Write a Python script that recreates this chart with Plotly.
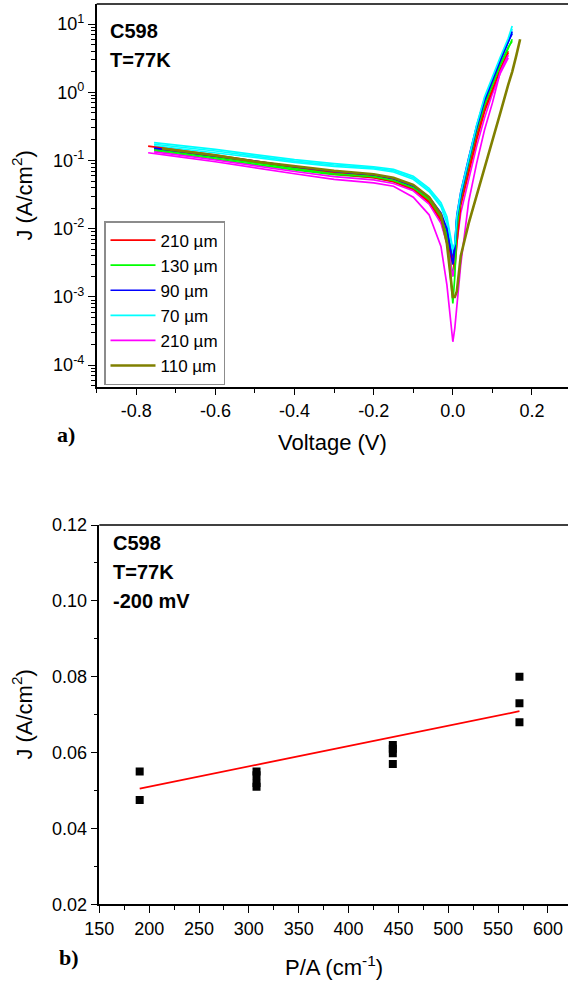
import plotly.graph_objects as go

# ---------------- data: panel a) J-V curves ----------------
voltage = [-0.77, -0.755, -0.735, -0.7, -0.6, -0.5, -0.4, -0.3, -0.2, -0.15, -0.1, -0.06, -0.03, -0.015,
           0.0, 0.005, 0.01, 0.02, 0.04, 0.06, 0.08, 0.1, 0.12, 0.14, 0.15, 0.16, 0.17]

red_210_a = [0.163, 0.158, 0.152, 0.143, 0.120, 0.098, 0.080, 0.066, 0.058, 0.051, 0.039, 0.025, 0.014, 0.007,
             0.0035, 0.0025, 0.006, 0.022, 0.07, 0.20, 0.52, 1.1, 2.2, 4.0, None, None, None]
green_130_a = [None, 0.146, 0.141, 0.132, 0.111, 0.092, 0.076, 0.064, 0.058, 0.051, 0.040, 0.027, 0.015, 0.008,
               0.0008, 0.002, 0.010, 0.028, 0.09, 0.27, 0.65, 1.3, 2.5, 4.4, 6.0, None, None]
blue_90_a = [None, 0.152, 0.147, 0.139, 0.118, 0.098, 0.081, 0.069, 0.062, 0.055, 0.043, 0.029, 0.017, 0.010,
             0.003, 0.005, 0.014, 0.030, 0.10, 0.30, 0.75, 1.5, 2.9, 5.5, 7.8, None, None]
cyan_70_a = [None, 0.183, 0.178, 0.168, 0.146, 0.122, 0.103, 0.090, 0.081, 0.074, 0.059, 0.039, 0.024, 0.015,
             0.005, 0.006, 0.015, 0.034, 0.11, 0.33, 0.85, 1.7, 3.3, 6.2, 9.4, None, None]
magenta_210_a = [0.130, 0.127, 0.123, 0.115, 0.096, 0.078, 0.064, 0.053, 0.047, 0.042, 0.029, 0.016, 0.0055, 0.0015,
                 0.00022, 0.00035, 0.0007, 0.003, 0.025, 0.09, 0.28, 0.7, 2.0, 3.5, None, None, None]
olive_110_a = [None, None, 0.150, 0.142, 0.119, 0.097, 0.083, 0.071, 0.063, 0.056, 0.044, 0.029, 0.016, 0.006,
               0.001, 0.001, 0.0012, 0.004, 0.012, 0.030, 0.075, 0.20, 0.50, 1.3, 2.0, 3.4, 6.0]
cyan_70_b = [None, 0.173, 0.168, 0.159, 0.138, 0.116, 0.098, 0.086, 0.078, 0.071, 0.056, 0.037, 0.022, 0.013,
             0.0045, 0.006, 0.014, 0.032, 0.105, 0.31, 0.80, 1.6, 3.1, 5.8, 8.5, None, None]
cyan_70_c = [None, 0.165, 0.160, 0.152, 0.132, 0.111, 0.094, 0.082, 0.075, 0.068, 0.053, 0.035, 0.021, 0.012,
             0.004, 0.005, 0.013, 0.030, 0.10, 0.30, 0.75, 1.5, 2.9, 5.4, 7.5, None, None]
blue_90_b = [None, 0.146, 0.141, 0.133, 0.113, 0.094, 0.078, 0.066, 0.060, 0.053, 0.041, 0.028, 0.016, 0.009,
             0.0035, 0.006, 0.016, 0.035, 0.11, 0.32, 0.80, 1.6, 3.1, 5.6, 7.2, None, None]
green_130_b = [None, 0.139, 0.134, 0.126, 0.106, 0.088, 0.073, 0.062, 0.056, 0.049, 0.039, 0.026, 0.015, 0.008,
               0.002, 0.004, 0.011, 0.030, 0.095, 0.28, 0.68, 1.35, 2.6, 4.6, 5.6, None, None]
red_210_b = [None, 0.150, 0.145, 0.137, 0.116, 0.095, 0.078, 0.064, 0.056, 0.049, 0.037, 0.024, 0.013, 0.0065,
             0.003, 0.004, 0.009, 0.025, 0.08, 0.23, 0.58, 1.15, 2.2, 3.8, None, None, None]
magenta_210_b = [None, 0.134, 0.130, 0.122, 0.102, 0.083, 0.069, 0.058, 0.052, 0.046, 0.036, 0.023, 0.012, 0.006,
                 0.002, 0.003, 0.006, 0.017, 0.055, 0.16, 0.42, 0.95, 1.9, 3.2, None, None, None]

legend_names = ["210 µm", "130 µm", "90 µm", "70 µm", "210 µm", "110 µm"]
legend_curves = [red_210_a, green_130_a, blue_90_a, cyan_70_a, magenta_210_a, olive_110_a]
extra_curves = [cyan_70_b, cyan_70_c, blue_90_b, green_130_b, red_210_b, magenta_210_b]

x_tick_vals_a = [-0.8, -0.6, -0.4, -0.2, 0.0, 0.2]
x_tick_text_a = ["-0.8", "-0.6", "-0.4", "-0.2", "0.0", "0.2"]
y_tick_vals_a = [1e-4, 1e-3, 1e-2, 1e-1, 1e0, 1e1]
y_tick_text_a = ["10<sup>-4</sup>", "10<sup>-3</sup>", "10<sup>-2</sup>", "10<sup>-1</sup>", "10<sup>0</sup>", "10<sup>1</sup>"]

# ---------------- data: panel b) J vs P/A ----------------
pa_points = [190.5, 190.5, 307.7, 307.7, 307.7, 307.7, 444.4, 444.4, 444.4, 444.4, 571.4, 571.4, 571.4]
j_points = [0.055, 0.0475, 0.055, 0.054, 0.052, 0.051, 0.062, 0.061, 0.0598, 0.057, 0.080, 0.073, 0.068]
fit_pa = [190.5, 571.4]
fit_j = [0.0505, 0.0709]

# ---------------- styling ----------------
W, H = 568, 984
colors_legend = ["#FF0000", "#00FF00", "#0000FF", "#00FFFF", "#FF00FF", "#808000"]
colors_extra = ["#00FFFF", "#00FFFF", "#0000FF", "#00FF00", "#FF0000", "#FF00FF"]
SANS = "Liberation Sans, Arial, sans-serif"
SERIF = "Liberation Serif, Times New Roman, serif"


def px(x):
    return x / W


def py(y):
    return 1 - y / H


fig = go.Figure()

for c, col in zip(extra_curves, colors_extra):
    fig.add_trace(go.Scatter(x=voltage, y=c, mode="lines", line=dict(color=col, width=1.6),
                             showlegend=False, xaxis="x", yaxis="y", hoverinfo="skip"))
for name, c, col in zip(legend_names, legend_curves, colors_legend):
    w = 2.6 if col == "#808000" else 1.7
    fig.add_trace(go.Scatter(x=voltage, y=c, mode="lines", name=name, line=dict(color=col, width=w),
                             xaxis="x", yaxis="y"))

fig.add_trace(go.Scatter(x=pa_points, y=j_points, mode="markers",
                         marker=dict(symbol="square", size=8, color="black"),
                         showlegend=False, xaxis="x2", yaxis="y2"))
fig.add_trace(go.Scatter(x=fit_pa, y=fit_j, mode="lines", line=dict(color="#FF0000", width=1.8),
                         showlegend=False, xaxis="x2", yaxis="y2"))

tickfont = dict(family=SANS, size=18, color="black")
axis_common = dict(showline=True, linecolor="black", linewidth=1.5, ticks="outside", tickcolor="black",
                   tickwidth=1.3, showgrid=False, zeroline=False, tickfont=tickfont, automargin=False)

minor_log_vals = [m * 10.0 ** e for e in range(-5, 2) for m in range(2, 10)]

fig.update_layout(
    width=W, height=H, autosize=False,
    margin=dict(l=0, r=0, t=0, b=0),
    paper_bgcolor="white", plot_bgcolor="white",
    xaxis=dict(domain=[px(96.7), 1], range=[-0.9, 0.291], anchor="y",
               tickmode="array", tickvals=x_tick_vals_a, ticktext=x_tick_text_a, ticklen=6,
               minor=dict(ticks="outside", ticklen=4, dtick=0.1, tick0=0, tickcolor="black", tickwidth=1.3),
               **axis_common),
    yaxis=dict(domain=[py(387.3), py(4)], type="log", range=[-4.325, 1.295], anchor="x",
               tickmode="array", tickvals=y_tick_vals_a, ticktext=y_tick_text_a, ticklen=7,
               minor=dict(ticks="outside", ticklen=4, tickmode="array", tickvals=minor_log_vals,
                          tickcolor="black", tickwidth=1),
               **axis_common),
    xaxis2=dict(domain=[px(99.3), 1], range=[150, 620.1], anchor="y2",
                tickmode="linear", tick0=150, dtick=50, ticklen=7,
                minor=dict(ticks="outside", ticklen=4, dtick=25, tick0=150, tickcolor="black", tickwidth=1.3),
                **axis_common),
    yaxis2=dict(domain=[py(904.3), py(525)], range=[0.02, 0.12], anchor="x2",
                tickmode="linear", tick0=0.02, dtick=0.02, tickformat=".2f", ticklen=7,
                minor=dict(ticks="outside", ticklen=4, dtick=0.01, tick0=0.02, tickcolor="black", tickwidth=1.3),
                **axis_common),
    legend=dict(x=px(104), y=py(221), xanchor="left", yanchor="top",
                bgcolor="white", bordercolor="#8c8c8c", borderwidth=1.5,
                font=dict(family=SANS, size=17, color="black"), itemwidth=45,
                tracegroupgap=0),
    shapes=[
        dict(type="line", xref="paper", yref="paper", x0=px(96.7), x1=1, y0=py(4), y1=py(4),
             line=dict(color="black", width=1.5)),
        dict(type="line", xref="paper", yref="paper", x0=px(99.3), x1=1, y0=py(525), y1=py(525),
             line=dict(color="black", width=1.5)),
    ],
)

annos = [
    dict(text="C598", x=px(108), y=py(31)),
    dict(text="T=77K", x=px(108), y=py(60)),
    dict(text="C598", x=px(111), y=py(543)),
    dict(text="T=77K", x=px(111), y=py(572)),
    dict(text="-200 mV", x=px(111), y=py(600.5)),
]
for a in annos:
    fig.add_annotation(text=a["text"], x=a["x"], y=a["y"], xref="paper", yref="paper",
                       xanchor="left", yanchor="middle", showarrow=False,
                       font=dict(family=SANS, size=20, color="black", weight="bold"))

fig.add_annotation(text="a)", x=px(66), y=py(434), xref="paper", yref="paper", showarrow=False,
                   xanchor="center", yanchor="middle",
                   font=dict(family=SERIF, size=22, color="black", weight="bold"))
fig.add_annotation(text="b)", x=px(69), y=py(957), xref="paper", yref="paper", showarrow=False,
                   xanchor="center", yanchor="middle",
                   font=dict(family=SERIF, size=22, color="black", weight="bold"))
fig.add_annotation(text="Voltage (V)", x=px((96.7 + 568) / 2), y=py(442), xref="paper", yref="paper",
                   showarrow=False, xanchor="center", yanchor="middle",
                   font=dict(family=SANS, size=22, color="black"))
fig.add_annotation(text="P/A (cm<sup>-1</sup>)", x=px((99.3 + 568) / 2), y=py(966), xref="paper", yref="paper",
                   showarrow=False, xanchor="center", yanchor="middle",
                   font=dict(family=SANS, size=22, color="black"))
fig.add_annotation(text="J (A/cm<sup>2</sup>)", x=px(22), y=py(195.6), xref="paper", yref="paper",
                   showarrow=False, xanchor="center", yanchor="middle", textangle=-90,
                   font=dict(family=SANS, size=22, color="black"))
fig.add_annotation(text="J (A/cm<sup>2</sup>)", x=px(22), y=py(714.6), xref="paper", yref="paper",
                   showarrow=False, xanchor="center", yanchor="middle", textangle=-90,
                   font=dict(family=SANS, size=22, color="black"))

fig.write_html("out.html", config={"displayModeBar": False},
               post_script="document.body.style.margin='0';document.body.style.overflow='hidden';")
